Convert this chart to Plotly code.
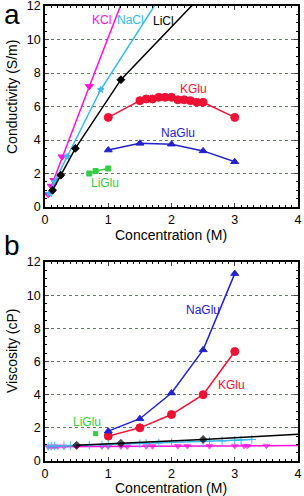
import plotly.graph_objects as go

# ---------- Panel a: conductivity (S/m) ----------
kcl_a_x = [0.05, 0.1, 0.14, 0.27, 0.7, 1.5]
kcl_a_y = [0.75, 1.25, 1.6, 3.0, 7.2, 15.0]
nacl_a_x = [0.07, 0.15, 0.35, 0.88, 2.0]
nacl_a_y = [0.8, 1.5, 3.0, 7.0, 13.6]
licl_a_x = [0.12, 0.25, 0.48, 1.2, 3.0]
licl_a_y = [1.0, 1.9, 3.5, 7.6, 14.7]
kglu_a_x = [1.0, 1.5, 1.6, 1.7, 1.8, 1.9, 2.0, 2.1, 2.2, 2.3, 2.4, 2.5, 3.0]
kglu_a_y = [5.35, 6.35, 6.45, 6.45, 6.55, 6.55, 6.55, 6.4, 6.4, 6.35, 6.25, 6.25, 5.35]
naglu_a_x = [1.0, 1.5, 2.0, 2.5, 3.0]
naglu_a_y = [3.4, 3.8, 3.75, 3.35, 2.7]
liglu_a_x = [0.7, 0.8, 1.0]
liglu_a_y = [2.0, 2.15, 2.3]

# ---------- Panel b: viscosity (cP) ----------
naglu_b_x = [1.0, 1.5, 2.0, 2.5, 3.0]
naglu_b_y = [1.8, 2.55, 4.1, 6.7, 11.3]
kglu_b_x = [1.0, 1.5, 2.0, 2.5, 3.0]
kglu_b_y = [1.5, 2.0, 2.8, 4.0, 6.6]
liglu_b_x = [0.8]
liglu_b_y = [1.65]
licl_b_x = [0.5, 1.2, 2.5, 4.0]
licl_b_y = [0.95, 1.07, 1.3, 1.62]
licl_b_marker = [6, 6, 6, 0]
nacl_b_x = [0.05, 0.1, 0.15, 0.3, 0.4, 0.7, 0.9, 1.0, 1.5, 1.6, 1.8, 2.0, 2.5, 2.6, 2.8, 3.0, 3.1, 3.27]
nacl_b_y = [0.88, 0.89, 0.9, 0.92, 0.93, 0.96, 0.98, 1.0, 1.05, 1.06, 1.09, 1.12, 1.18, 1.19, 1.22, 1.25, 1.27, 1.3]
kcl_b_x = [0.05, 0.1, 0.15, 0.2, 0.3, 0.5, 0.9, 1.0, 1.2, 1.3, 1.6, 1.7, 2.1, 2.25, 2.6, 3.0, 3.15, 3.2, 3.5, 4.0]
kcl_b_y = [0.86, 0.86, 0.87, 0.87, 0.87, 0.87, 0.88, 0.88, 0.88, 0.88, 0.89, 0.89, 0.9, 0.9, 0.9, 0.91, 0.91, 0.91, 0.92, 0.93]
kcl_b_marker = [6] * 19 + [0]

x_ticks = [0, 1, 2, 3, 4]
y_ticks = [0, 2, 4, 6, 8, 10, 12]

C_KCL = "#ff11dd"
C_NACL = "#33bbee"
C_LICL = "#000000"
C_KGLU = "#ee1133"
C_NAGLU = "#2222cc"
C_LIGLU = "#33cc44"

FONT = "Liberation Sans, Arial, sans-serif"

fig = go.Figure()

def add(x, y, color, symbol, size, xa, ya, lw=1.5):
    fig.add_trace(go.Scatter(
        x=x, y=y, mode="lines+markers", xaxis=xa, yaxis=ya,
        line=dict(color=color, width=lw),
        marker=dict(color=color, symbol=symbol, size=size,
                    line=dict(color=color, width=1)),
        showlegend=False, cliponaxis=True))

# panel a
add(kcl_a_x, kcl_a_y, C_KCL, "triangle-down", 7, "x", "y")
add(nacl_a_x, nacl_a_y, C_NACL, "star", 5, "x", "y")
add(licl_a_x, licl_a_y, C_LICL, "diamond", 6, "x", "y")
add(kglu_a_x, kglu_a_y, C_KGLU, "circle", 8, "x", "y")
add(naglu_a_x, naglu_a_y, C_NAGLU, "triangle-up", 7, "x", "y")
add(liglu_a_x, liglu_a_y, C_LIGLU, "square", 5, "x", "y")

# panel b
add(kcl_b_x, kcl_b_y, C_KCL, "triangle-down", kcl_b_marker, "x2", "y2")
add(nacl_b_x, nacl_b_y, C_NACL, "cross-thin-open", 6, "x2", "y2")
add(licl_b_x, licl_b_y, C_LICL, "diamond", licl_b_marker, "x2", "y2")
add(kglu_b_x, kglu_b_y, C_KGLU, "circle", 8, "x2", "y2")
add(naglu_b_x, naglu_b_y, C_NAGLU, "triangle-up", 7, "x2", "y2")
fig.add_trace(go.Scatter(x=liglu_b_x, y=liglu_b_y, mode="markers", xaxis="x2", yaxis="y2",
                         marker=dict(color=C_LIGLU, symbol="square", size=5), showlegend=False))

tf = dict(size=12.5, color="black", family=FONT)
xcommon = dict(range=[0, 4], tickvals=x_ticks, ticks="inside", ticklen=4, tickwidth=1.2,
               showline=True, linecolor="black", linewidth=1.5, automargin=False,
               showgrid=False, zeroline=False, ticklabeloverflow="allow",
               minor=dict(dtick=0.1, ticks="inside", ticklen=2, tickwidth=1, tickcolor="black", showgrid=False),
               tickfont=tf)
ycommon = dict(range=[0, 12], tickvals=y_ticks, ticks="inside", ticklen=4, tickwidth=1.2,
               showline=True, linecolor="black", linewidth=1.5, automargin=False,
               showgrid=True, gridcolor="#667766", griddash="dot", gridwidth=1, zeroline=False,
               ticklabeloverflow="allow",
               minor=dict(dtick=0.5, ticks="inside", ticklen=2, tickwidth=1, tickcolor="black", showgrid=False),
               tickfont=tf)
# mirrored axes (top / right) with ticks only
xmir = dict(xcommon, side="top", showticklabels=False)
ymir = dict(ycommon, side="right", showticklabels=False, showgrid=False)

DA = [0.5582, 1]
DB = [0, 0.4374]

fig.update_layout(
    width=304, height=496,
    margin=dict(l=45, r=6, t=6, b=35),
    paper_bgcolor="white", plot_bgcolor="white",
    font=dict(family=FONT, color="black"),
    xaxis=dict(xcommon, anchor="y", domain=[0, 1]),
    yaxis=dict(ycommon, anchor="x", domain=DA),
    xaxis2=dict(xcommon, anchor="y2", domain=[0, 1]),
    yaxis2=dict(ycommon, anchor="x2", domain=DB),
    xaxis3=dict(xmir, anchor="y", overlaying="x"),
    yaxis3=dict(ymir, anchor="x", overlaying="y"),
    xaxis4=dict(xmir, anchor="y2", overlaying="x2"),
    yaxis4=dict(ymir, anchor="x2", overlaying="y2"),
)
# invisible traces to activate mirrored axes
fig.add_trace(go.Scatter(x=[None], y=[None], xaxis="x3", yaxis="y3", showlegend=False, hoverinfo="skip"))
fig.add_trace(go.Scatter(x=[None], y=[None], xaxis="x4", yaxis="y4", showlegend=False, hoverinfo="skip"))

def lab(text, x, y, color, xa="x", ya="y"):
    fig.add_annotation(text=text, x=x, y=y, xref=xa, yref=ya, showarrow=False,
                       xanchor="center", yanchor="middle",
                       font=dict(size=12, color=color, family=FONT))

lab("KCl", 0.9, 11.15, C_KCL)
lab("NaCl", 1.35, 11.15, C_NACL)
lab("LiCl", 1.87, 11.1, C_LICL)
lab("KGlu", 2.35, 7.03, C_KGLU)
lab("NaGlu", 2.11, 4.4, C_NAGLU)
lab("LiGlu", 0.95, 1.45, C_LIGLU)
lab("NaGlu", 2.5, 9.1, C_NAGLU, "x2", "y2")
lab("KGlu", 2.95, 4.6, C_KGLU, "x2", "y2")
lab("LiGlu", 0.66, 2.37, C_LIGLU, "x2", "y2")

tt = dict(size=14, color="black", family=FONT)
# pixel positions converted to paper coords: plot 45..298 x, 6..461 y
def px_x(p):
    return (p - 45) / 253.0
def px_y(p):
    return (461 - p) / 455.0

def ptext(text, px, py, font, angle=0):
    fig.add_annotation(text=text, x=px_x(px), y=px_y(py), xref="paper", yref="paper",
                       showarrow=False, xanchor="center", yanchor="middle",
                       textangle=angle, font=font)

ptext("Concentration (M)", 171, 235, tt)
ptext("Concentration (M)", 171, 488, tt)
ptext("Conductivity (S/m)", 12, 97, tt, -90)
ptext("Viscosity (cP)", 12, 351, tt, -90)
ptext("a", 12, 14, dict(size=28, color="black", family=FONT))
ptext("b", 12, 245, dict(size=28, color="black", family=FONT))

fig.write_html("out.html", config={"displayModeBar": False},
               post_script="document.body.style.margin='0px';")
